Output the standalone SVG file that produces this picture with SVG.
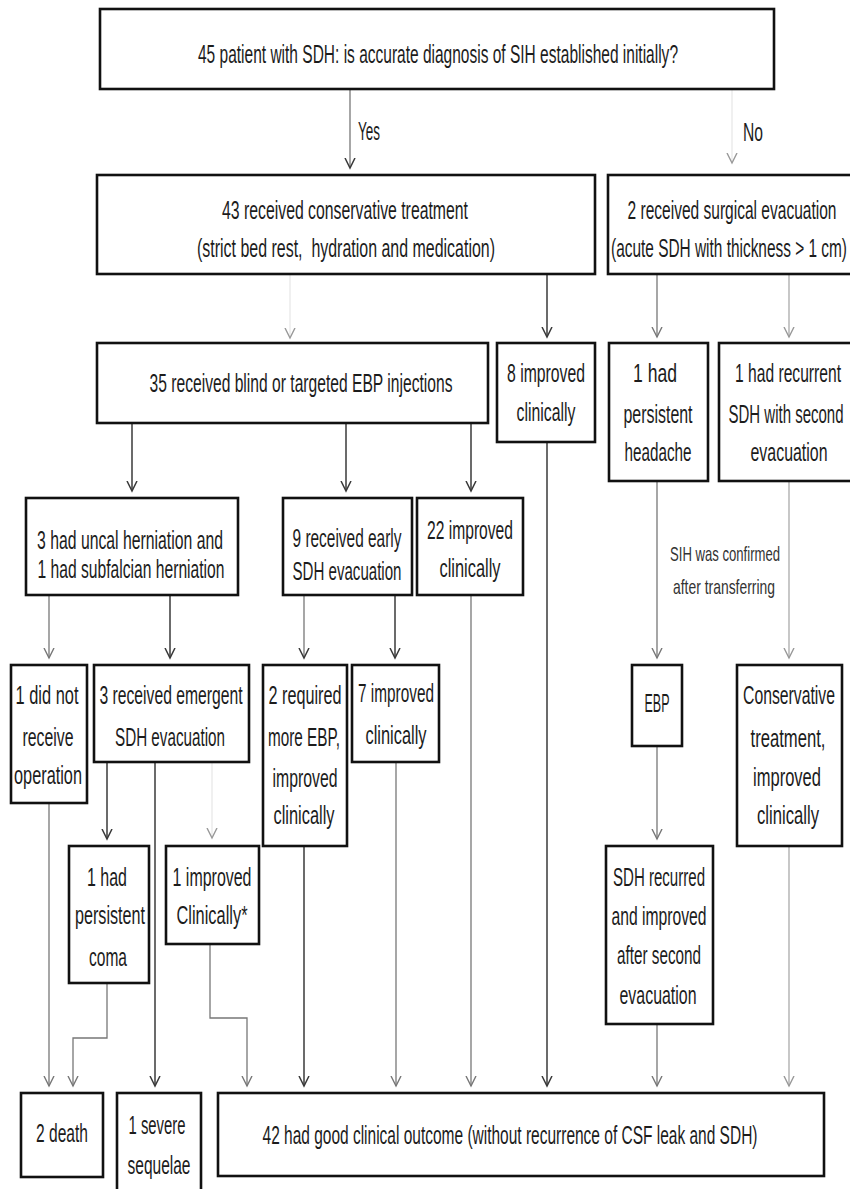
<svg xmlns="http://www.w3.org/2000/svg" width="850" height="1189" viewBox="0 0 850 1189">
<style>
.bx{fill:#fff;stroke:#111;stroke-width:2.6}
.t{font-family:"Liberation Sans",Arial,sans-serif;font-size:26px;fill:#1c1c1c;text-anchor:middle}
.s{font-size:20px;fill:#333}
.c1{stroke:#3a3a3a;stroke-width:1.5;fill:none}
.c2{stroke:#777;stroke-width:1.3;fill:none}
.c3{stroke:#aaa;stroke-width:1.3;fill:none}
.c4{stroke:#e6e6e6;stroke-width:1.2;fill:none}
</style>
<defs>
<marker id="md" viewBox="0 -6 12 12" refX="10" refY="0" markerWidth="12" markerHeight="12" markerUnits="userSpaceOnUse" orient="auto"><path d="M0,-5 L10,0 L0,5" fill="none" stroke="#3a3a3a" stroke-width="1.5"/></marker>
<marker id="mm" viewBox="0 -6 12 12" refX="10" refY="0" markerWidth="12" markerHeight="12" markerUnits="userSpaceOnUse" orient="auto"><path d="M0,-5 L10,0 L0,5" fill="none" stroke="#777" stroke-width="1.4"/></marker>
<marker id="ml" viewBox="0 -6 12 12" refX="10" refY="0" markerWidth="12" markerHeight="12" markerUnits="userSpaceOnUse" orient="auto"><path d="M0,-5 L10,0 L0,5" fill="none" stroke="#999" stroke-width="1.4"/></marker>
</defs>
<rect width="850" height="1189" fill="#fff"/>

<g id="connectors">
<line class="c2" x1="350" y1="89" x2="350" y2="168" marker-end="url(#md)"/>
<line class="c4" x1="732" y1="89" x2="732" y2="163" marker-end="url(#ml)"/>
<line class="c4" x1="290" y1="274" x2="290" y2="338" marker-end="url(#ml)"/>
<line class="c1" x1="547" y1="274" x2="547" y2="337" marker-end="url(#md)"/>
<line class="c2" x1="657" y1="274" x2="657" y2="337" marker-end="url(#mm)"/>
<line class="c3" x1="789" y1="274" x2="789" y2="337" marker-end="url(#ml)"/>
<line class="c1" x1="132" y1="423" x2="132" y2="491" marker-end="url(#md)"/>
<line class="c1" x1="346" y1="423" x2="346" y2="491" marker-end="url(#md)"/>
<line class="c1" x1="471" y1="423" x2="471" y2="491" marker-end="url(#md)"/>
<line class="c2" x1="49" y1="595" x2="49" y2="658" marker-end="url(#mm)"/>
<line class="c1" x1="170" y1="595" x2="170" y2="658" marker-end="url(#md)"/>
<line class="c2" x1="304" y1="595" x2="304" y2="658" marker-end="url(#md)"/>
<line class="c1" x1="395" y1="595" x2="395" y2="658" marker-end="url(#md)"/>
<line class="c2" x1="657" y1="481" x2="657" y2="658" marker-end="url(#mm)"/>
<line class="c3" x1="789" y1="481" x2="789" y2="658" marker-end="url(#ml)"/>
<line class="c1" x1="107" y1="762" x2="107" y2="839" marker-end="url(#md)"/>
<line class="c4" x1="212" y1="762" x2="212" y2="838" marker-end="url(#ml)"/>
<line class="c1" x1="155" y1="762" x2="155" y2="1086" marker-end="url(#md)"/>
<line class="c2" x1="657" y1="746" x2="657" y2="839" marker-end="url(#mm)"/>
<line class="c2" x1="49" y1="803" x2="49" y2="1086" marker-end="url(#mm)"/>
<polyline class="c2" points="107,983 107,1038 73,1038 73,1086" marker-end="url(#mm)"/>
<polyline class="c2" points="210,944 210,1018 247,1018 247,1086" marker-end="url(#mm)"/>
<line class="c1" x1="304" y1="846" x2="304" y2="1086" marker-end="url(#md)"/>
<line class="c2" x1="396" y1="762" x2="396" y2="1086" marker-end="url(#mm)"/>
<line class="c2" x1="471" y1="595" x2="471" y2="1086" marker-end="url(#mm)"/>
<line class="c1" x1="547" y1="442" x2="547" y2="1086" marker-end="url(#md)"/>
<line class="c2" x1="657" y1="1024" x2="657" y2="1086" marker-end="url(#mm)"/>
<line class="c3" x1="789" y1="846" x2="789" y2="1086" marker-end="url(#ml)"/>
</g>

<g id="lbl-yes"><text class="t" transform="translate(369,140) scale(0.58,1)" font-size="24" textLength="37.9" lengthAdjust="spacingAndGlyphs">Yes</text></g>
<g id="lbl-no"><text class="t" transform="translate(753,141) scale(0.58,1)" font-size="24" textLength="34.5" lengthAdjust="spacingAndGlyphs">No</text></g>
<g id="lbl-sih">
<text class="t s" transform="translate(725,561) scale(0.58,1)" textLength="189.7" lengthAdjust="spacingAndGlyphs">SIH was confirmed</text>
<text class="t s" transform="translate(724,594) scale(0.58,1)" textLength="175.9" lengthAdjust="spacingAndGlyphs">after transferring</text>
</g>

<g id="n-title"><rect class="bx" x="100" y="9" width="674" height="80"/>
<text class="t" transform="translate(438,63) scale(0.58,1)" font-size="23" textLength="827.6" lengthAdjust="spacingAndGlyphs">45 patient with SDH: is accurate diagnosis of SIH established initially?</text></g>

<g id="n-cons43"><rect class="bx" x="97" y="175" width="498" height="99"/>
<text class="t" transform="translate(345,219) scale(0.58,1)" textLength="424.1" lengthAdjust="spacingAndGlyphs">43 received conservative treatment</text>
<text class="t" transform="translate(346,257) scale(0.58,1)" textLength="513.8" lengthAdjust="spacingAndGlyphs" style="white-space:pre">(strict bed rest,  hydration and medication)</text></g>

<g id="n-surg2"><rect class="bx" x="608" y="175" width="250" height="99"/>
<text class="t" transform="translate(732,219) scale(0.58,1)" textLength="360.3" lengthAdjust="spacingAndGlyphs">2 received surgical evacuation</text>
<text class="t" transform="translate(729,257) scale(0.58,1)" textLength="406.9" lengthAdjust="spacingAndGlyphs">(acute SDH with thickness &gt; 1 cm)</text></g>

<g id="n-ebp35"><rect class="bx" x="97" y="343" width="391" height="80"/>
<text class="t" transform="translate(301,392) scale(0.58,1)" textLength="522.4" lengthAdjust="spacingAndGlyphs">35 received blind or targeted EBP injections</text></g>

<g id="n-imp8"><rect class="bx" x="497" y="343" width="98" height="99"/>
<text class="t" transform="translate(546,382) scale(0.58,1)" textLength="134.5" lengthAdjust="spacingAndGlyphs">8 improved</text>
<text class="t" transform="translate(546,421) scale(0.58,1)" textLength="101.7" lengthAdjust="spacingAndGlyphs">clinically</text></g>

<g id="n-head1"><rect class="bx" x="609" y="343" width="99" height="138"/>
<text class="t" transform="translate(655,382) scale(0.58,1)" textLength="75.9" lengthAdjust="spacingAndGlyphs">1 had</text>
<text class="t" transform="translate(658,423) scale(0.58,1)" textLength="119" lengthAdjust="spacingAndGlyphs">persistent</text>
<text class="t" transform="translate(658,461) scale(0.58,1)" textLength="115.5" lengthAdjust="spacingAndGlyphs">headache</text></g>

<g id="n-recur1"><rect class="bx" x="719" y="343" width="139" height="138"/>
<text class="t" transform="translate(788,382) scale(0.58,1)" textLength="182.8" lengthAdjust="spacingAndGlyphs">1 had recurrent</text>
<text class="t" transform="translate(786,423) scale(0.58,1)" textLength="198.3" lengthAdjust="spacingAndGlyphs">SDH with second</text>
<text class="t" transform="translate(789,461) scale(0.58,1)" textLength="132.8" lengthAdjust="spacingAndGlyphs">evacuation</text></g>

<g id="n-hern"><rect class="bx" x="26" y="498" width="212" height="97"/>
<text class="t" transform="translate(130,549) scale(0.58,1)" textLength="320.7" lengthAdjust="spacingAndGlyphs">3 had uncal herniation and</text>
<text class="t" transform="translate(131,578) scale(0.58,1)" textLength="322.4" lengthAdjust="spacingAndGlyphs">1 had subfalcian herniation</text></g>

<g id="n-early9"><rect class="bx" x="283" y="498" width="129" height="97"/>
<text class="t" transform="translate(347,547) scale(0.58,1)" textLength="187.9" lengthAdjust="spacingAndGlyphs">9 received early</text>
<text class="t" transform="translate(347,580) scale(0.58,1)" textLength="187.9" lengthAdjust="spacingAndGlyphs">SDH evacuation</text></g>

<g id="n-imp22"><rect class="bx" x="417" y="498" width="106" height="97"/>
<text class="t" transform="translate(470,539) scale(0.58,1)" textLength="148.3" lengthAdjust="spacingAndGlyphs">22 improved</text>
<text class="t" transform="translate(470,577) scale(0.58,1)" textLength="105.2" lengthAdjust="spacingAndGlyphs">clinically</text></g>

<g id="n-noop1"><rect class="bx" x="11" y="665" width="76" height="138"/>
<text class="t" transform="translate(47,704) scale(0.58,1)" textLength="108.6" lengthAdjust="spacingAndGlyphs">1 did not</text>
<text class="t" transform="translate(48,746) scale(0.58,1)" textLength="87.9" lengthAdjust="spacingAndGlyphs">receive</text>
<text class="t" transform="translate(48,784) scale(0.58,1)" textLength="117.2" lengthAdjust="spacingAndGlyphs">operation</text></g>

<g id="n-emerg3"><rect class="bx" x="94" y="665" width="155" height="97"/>
<text class="t" transform="translate(171,704) scale(0.58,1)" textLength="246.6" lengthAdjust="spacingAndGlyphs">3 received emergent</text>
<text class="t" transform="translate(170,746) scale(0.58,1)" textLength="189.7" lengthAdjust="spacingAndGlyphs">SDH evacuation</text></g>

<g id="n-req2"><rect class="bx" x="263" y="665" width="84" height="181"/>
<text class="t" transform="translate(305,704) scale(0.58,1)" textLength="125.9" lengthAdjust="spacingAndGlyphs">2 required</text>
<text class="t" transform="translate(304,746) scale(0.58,1)" textLength="124.1" lengthAdjust="spacingAndGlyphs">more EBP,</text>
<text class="t" transform="translate(305,787) scale(0.58,1)" textLength="112.1" lengthAdjust="spacingAndGlyphs">improved</text>
<text class="t" transform="translate(304,824) scale(0.58,1)" textLength="105.2" lengthAdjust="spacingAndGlyphs">clinically</text></g>

<g id="n-imp7"><rect class="bx" x="352" y="665" width="87" height="97"/>
<text class="t" transform="translate(396,702) scale(0.58,1)" textLength="131" lengthAdjust="spacingAndGlyphs">7 improved</text>
<text class="t" transform="translate(396,744) scale(0.58,1)" textLength="105.2" lengthAdjust="spacingAndGlyphs">clinically</text></g>

<g id="n-ebp"><rect class="bx" x="632" y="665" width="50" height="81"/>
<text class="t" transform="translate(657,712) scale(0.58,1)" textLength="43.1" lengthAdjust="spacingAndGlyphs">EBP</text></g>

<g id="n-consv"><rect class="bx" x="737" y="665" width="105" height="181"/>
<text class="t" transform="translate(789,704) scale(0.58,1)" textLength="158.6" lengthAdjust="spacingAndGlyphs">Conservative</text>
<text class="t" transform="translate(788,747) scale(0.58,1)" textLength="129.3" lengthAdjust="spacingAndGlyphs">treatment,</text>
<text class="t" transform="translate(787,786) scale(0.58,1)" textLength="117.2" lengthAdjust="spacingAndGlyphs">improved</text>
<text class="t" transform="translate(788,824) scale(0.58,1)" textLength="106.9" lengthAdjust="spacingAndGlyphs">clinically</text></g>

<g id="n-coma1"><rect class="bx" x="69" y="846" width="80" height="137"/>
<text class="t" transform="translate(107,886) scale(0.58,1)" textLength="69" lengthAdjust="spacingAndGlyphs">1 had</text>
<text class="t" transform="translate(110,924) scale(0.58,1)" textLength="120.7" lengthAdjust="spacingAndGlyphs">persistent</text>
<text class="t" transform="translate(108,966) scale(0.58,1)" textLength="65.5" lengthAdjust="spacingAndGlyphs">coma</text></g>

<g id="n-impc1"><rect class="bx" x="166" y="846" width="93" height="98"/>
<text class="t" transform="translate(212,886) scale(0.58,1)" textLength="136.2" lengthAdjust="spacingAndGlyphs">1 improved</text>
<text class="t" transform="translate(212,924) scale(0.58,1)" textLength="122.4" lengthAdjust="spacingAndGlyphs">Clinically*</text></g>

<g id="n-recurred"><rect class="bx" x="606" y="846" width="107" height="178"/>
<text class="t" transform="translate(659,886) scale(0.58,1)" textLength="158.6" lengthAdjust="spacingAndGlyphs">SDH recurred</text>
<text class="t" transform="translate(659,925) scale(0.58,1)" textLength="163.8" lengthAdjust="spacingAndGlyphs">and improved</text>
<text class="t" transform="translate(659,964) scale(0.58,1)" textLength="144.8" lengthAdjust="spacingAndGlyphs">after second</text>
<text class="t" transform="translate(658,1004) scale(0.58,1)" textLength="132.8" lengthAdjust="spacingAndGlyphs">evacuation</text></g>

<g id="n-death"><rect class="bx" x="21" y="1093" width="82" height="84"/>
<text class="t" transform="translate(62,1142) scale(0.58,1)" textLength="89.7" lengthAdjust="spacingAndGlyphs">2 death</text></g>

<g id="n-severe"><rect class="bx" x="117" y="1093" width="84" height="110"/>
<text class="t" transform="translate(157,1134) scale(0.58,1)" textLength="98.3" lengthAdjust="spacingAndGlyphs">1 severe</text>
<text class="t" transform="translate(159,1174) scale(0.58,1)" textLength="108.6" lengthAdjust="spacingAndGlyphs">sequelae</text></g>

<g id="n-good42"><rect class="bx" x="218" y="1093" width="606" height="83"/>
<text class="t" transform="translate(510,1144) scale(0.58,1)" textLength="853.4" lengthAdjust="spacingAndGlyphs">42 had good clinical outcome (without recurrence of CSF leak and SDH)</text></g>
</svg>
